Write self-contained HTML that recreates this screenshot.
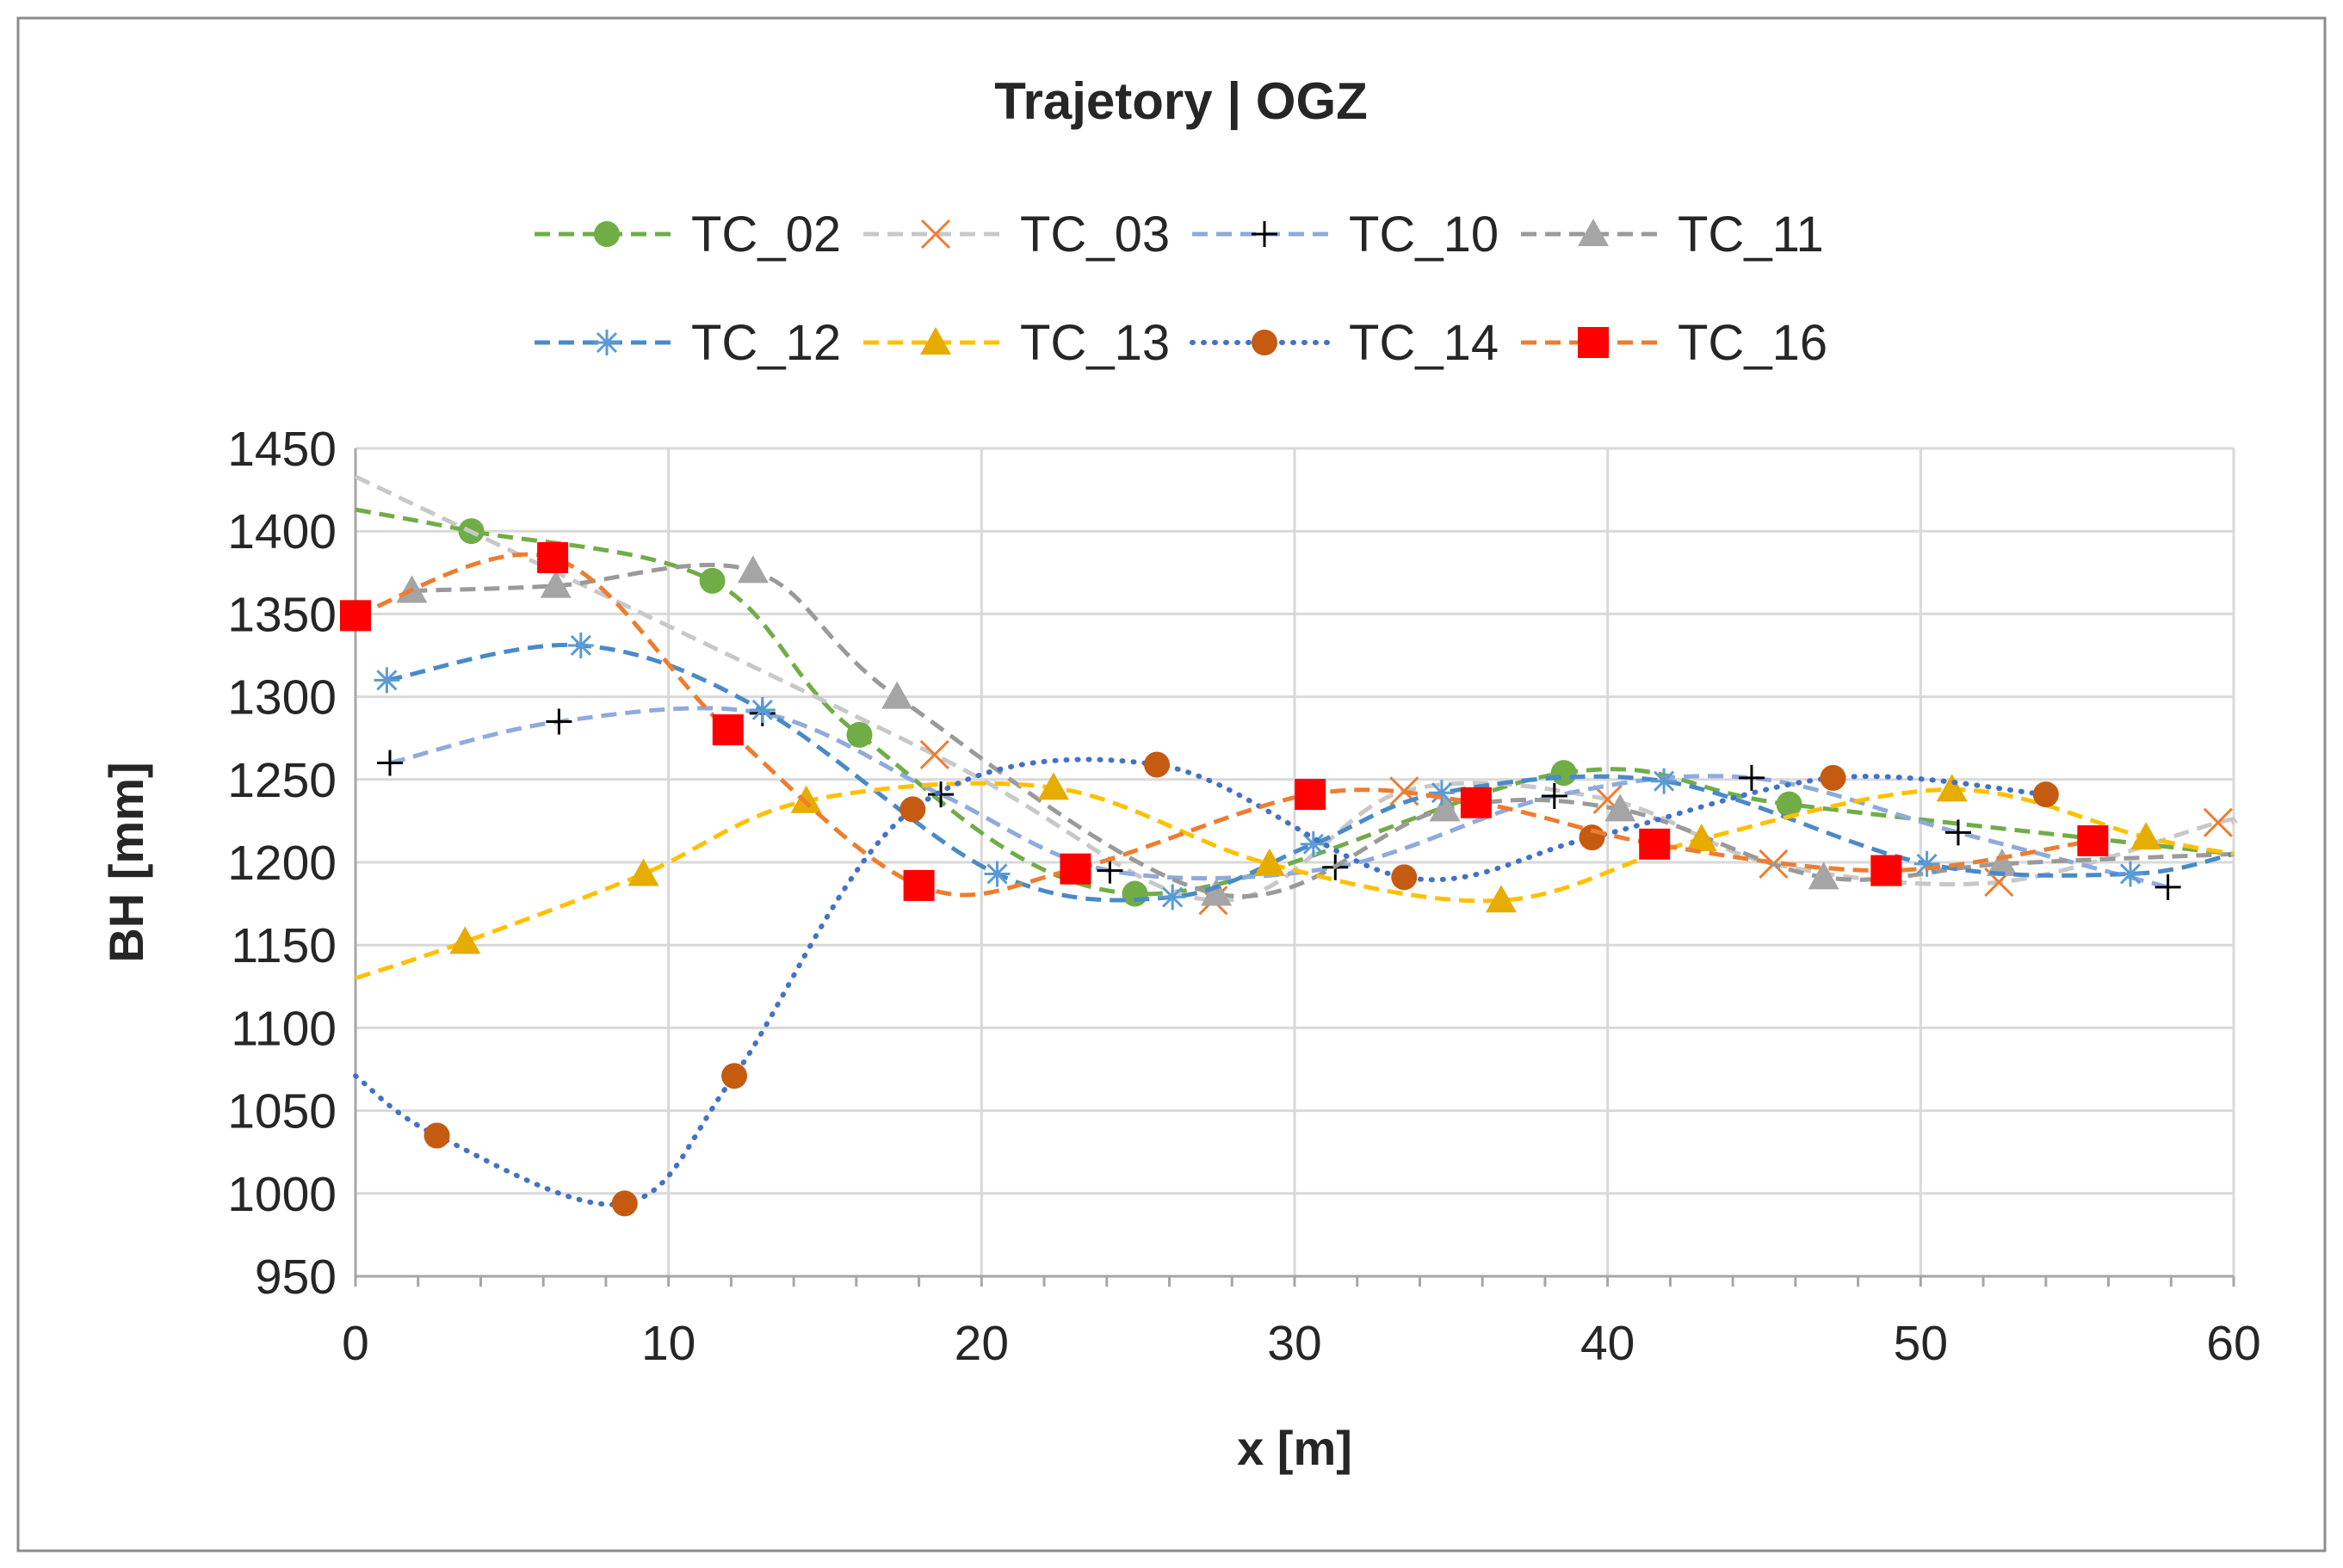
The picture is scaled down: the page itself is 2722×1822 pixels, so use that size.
<!DOCTYPE html>
<html><head><meta charset="utf-8">
<style>
html,body{margin:0;padding:0;background:#fff;}
svg{display:block;font-family:"Liberation Sans",Arial,sans-serif;}
</style></head>
<body>
<svg id="chart" width="2722" height="1822" viewBox="0 0 2722 1822">
<rect x="21" y="21" width="2680" height="1781" fill="#fff" stroke="#8c8c8c" stroke-width="3"/>
<text x="1372" y="138" text-anchor="middle" font-size="60" font-weight="bold" fill="#262626">Trajetory | OGZ</text>
<g id="grid"></g>
<g id="axes"></g>
<g id="series"></g>
<g id="legend"></g>
<text x="1504" y="1702" text-anchor="middle" font-size="56" font-weight="bold" fill="#262626">x [m]</text>
<text transform="translate(166,1002) rotate(-90)" text-anchor="middle" font-size="56" font-weight="bold" fill="#262626">BH [mm]</text>
</svg>
<script>
const xTicks = [0,10,20,30,40,50,60];
const yTicks = [950,1000,1050,1100,1150,1200,1250,1300,1350,1400,1450];
const seriesNames = ["TC_02","TC_03","TC_10","TC_11","TC_12","TC_13","TC_14","TC_16"];
const tc02x = [0,3.7,11.4,16.1,24.9,38.6,45.8,60];
const tc02y = [1413,1400,1370,1277,1181,1254,1235,1205];
const tc03x = [0,18.5,27.4,33.5,40,45.3,52.5,59.5,60];
const tc03y = [1433,1265,1177,1243,1238,1199,1188,1224,1224];
const tc10x = [1.1,6.5,13,18.7,24.1,31.3,38.3,44.6,51.2,57.9];
const tc10y = [1260,1285,1290,1241,1195,1197,1240,1251,1218,1185];
const tc11x = [1.8,6.4,12.7,17.3,27.5,34.8,40.4,46.9,52.6,60];
const tc11y = [1364,1367,1376,1300,1181,1232,1232,1191,1199,1205];
const tc12x = [1,7.2,13,20.5,26.1,30.6,34.7,41.8,50.2,56.7,60];
const tc12y = [1310,1331,1292,1193,1179,1211,1242,1249,1199,1193,1205];
const tc13x = [0,3.5,9.2,14.4,22.3,29.2,36.6,43,51,57.2,60];
const tc13y = [1130,1152,1193,1237,1245,1199,1177,1214,1244,1215,1205];
const tc14x = [0,2.6,8.6,12.1,17.8,25.6,33.5,39.5,47.2,54];
const tc14y = [1071,1035,994,1071,1232,1259,1191,1215,1251,1241];
const tc16x = [0,6.3,11.9,18,23,30.5,35.8,41.5,48.9,55.5];
const tc16y = [1349,1384,1280,1186,1196,1241,1236,1211,1195,1213];
const allX = [tc02x,tc03x,tc10x,tc11x,tc12x,tc13x,tc14x,tc16x];
const allY = [tc02y,tc03y,tc10y,tc11y,tc12y,tc13y,tc14y,tc16y];

const NS="http://www.w3.org/2000/svg";
const L=413,R=2595,T=521,B=1483;
const xs=v=>L+(v-0)/(60-0)*(R-L);
const ys=v=>B-(v-950)/(1450-950)*(B-T);
function mk(tag,attrs,parent){const e=document.createElementNS(NS,tag);for(const k in attrs)e.setAttribute(k,attrs[k]);parent.appendChild(e);return e;}

const styles=[
 {line:"#70AD47",dash:"18,10",mark:"circle",mc:"#70AD47",ends:false},
 {line:"#C8C8C8",dash:"18,10",mark:"x",mc:"#ED7D31",ends:false},
 {line:"#8FAADC",dash:"18,10",mark:"plus",mc:"#000",ends:false},
 {line:"#9A9A9A",dash:"18,10",mark:"tri",mc:"#A5A5A5",ends:false},
 {line:"#4A8AC8",dash:"18,10",mark:"star",mc:"#5B9BD5",ends:false},
 {line:"#FFC000",dash:"18,10",mark:"tri",mc:"#E6AC00",ends:false},
 {line:"#4472C4",dash:"1,12",mark:"circle",mc:"#C55A11",ends:false},
 {line:"#ED7D31",dash:"18,10",mark:"square",mc:"#FF0000",ends:true}
];

const grid=document.getElementById('grid');
yTicks.forEach(v=>{
 const l=mk('line',{x1:L,x2:R,y1:ys(v),y2:ys(v),stroke:'#d9d9d9','stroke-width':3},grid);
 
 
 const t=mk('text',{x:L-22,y:ys(v)+20,'text-anchor':'end','font-size':57,fill:'#262626'},grid);
 t.textContent=v;
 
 
});
xTicks.forEach(v=>{
 const l=mk('line',{x1:xs(v),x2:xs(v),y1:T,y2:B,stroke:'#d9d9d9','stroke-width':3},grid);
 
 
 const t=mk('text',{x:xs(v),y:B+97,'text-anchor':'middle','font-size':57,fill:'#262626'},grid);
 t.textContent=v;
 
 
});
const axes=document.getElementById('axes');
for(let v=0;v<=60;v+=2){
 const tk=mk('line',{x1:xs(v),x2:xs(v),y1:B,y2:B+12,stroke:'#a6a6a6','stroke-width':3},axes);
 
 
}
const xa=mk('line',{x1:L,x2:R,y1:B,y2:B,stroke:'#a6a6a6','stroke-width':3},axes);


const ya=mk('line',{x1:L,x2:L,y1:T,y2:B,stroke:'#a6a6a6','stroke-width':3},axes);



function smooth(px,py){
 let d=`M${px[0]},${py[0]}`;
 for(let i=0;i<px.length-1;i++){
  const x0=px[Math.max(i-1,0)],y0=py[Math.max(i-1,0)];
  const x1=px[i],y1=py[i],x2=px[i+1],y2=py[i+1];
  const x3=px[Math.min(i+2,px.length-1)],y3=py[Math.min(i+2,px.length-1)];
  const c1x=x1+(x2-x0)/6,c1y=y1+(y2-y0)/6,c2x=x2-(x3-x1)/6,c2y=y2-(y3-y1)/6;
  d+=` C${c1x},${c1y} ${c2x},${c2y} ${x2},${y2}`;
 }
 return d;
}
function marker(type,x,y,c,parent,s){
 s=s||1;let e;
 if(type==='circle')e=mk('circle',{cx:x,cy:y,r:15*s,fill:c},parent);
 else if(type==='square')e=mk('rect',{x:x-18*s,y:y-18*s,width:36*s,height:36*s,fill:c},parent);
 else if(type==='tri')e=mk('polygon',{points:`${x},${y-18*s} ${x+18*s},${y+14*s} ${x-18*s},${y+14*s}`,fill:c},parent);
 else if(type==='x')e=mk('path',{d:`M${x-16*s},${y-16*s}L${x+16*s},${y+16*s}M${x+16*s},${y-16*s}L${x-16*s},${y+16*s}`,stroke:c,'stroke-width':3,fill:'none'},parent);
 else if(type==='plus')e=mk('path',{d:`M${x-15*s},${y}L${x+15*s},${y}M${x},${y-15*s}L${x},${y+15*s}`,stroke:c,'stroke-width':3,fill:'none'},parent);
 else if(type==='star')e=mk('path',{d:`M${x-15*s},${y}L${x+15*s},${y}M${x},${y-15*s}L${x},${y+15*s}M${x-11*s},${y-11*s}L${x+11*s},${y+11*s}M${x+11*s},${y-11*s}L${x-11*s},${y+11*s}`,stroke:c,'stroke-width':3,fill:'none'},parent);
 return e;
}
const sg=document.getElementById('series');
allX.forEach((xa_,i)=>{
 const st=styles[i];
 const g=mk('g',{},sg);
 
 
 const px=xa_.map(xs),py=allY[i].map(ys);
 const dotted=st.dash==='1,12';
 const p=mk('path',{d:smooth(px,py),fill:'none',stroke:st.line,'stroke-width':dotted?6:5,'stroke-dasharray':st.dash,'stroke-linecap':dotted?'round':'butt'},g);
 
 
 px.forEach((x,j)=>{
  const isEnd=(j===0&&xa_[j]===0)||(xa_[j]===60);
  if(isEnd&&!st.ends)return;
  const m=marker(st.mark,x,py[j],st.mc,g);
  
  
 });
});
const lg=document.getElementById('legend');
const cols=[621,1003,1385,1767],rows=[272,398];
seriesNames.forEach((n,i)=>{
 const cx=cols[i%4],cy=rows[Math.floor(i/4)],st=styles[i];
 const g=mk('g',{},lg);
 
 
 const dotted=st.dash==='1,12';
 mk('line',{x1:cx,x2:cx+168,y1:cy,y2:cy,stroke:st.line,'stroke-width':dotted?6:5,'stroke-dasharray':st.dash,'stroke-linecap':dotted?'round':'butt'},g);
 marker(st.mark,cx+84,cy,st.mc,g);
 const t=mk('text',{x:cx+182,y:cy+20,'font-size':58,fill:'#262626'},g);
 t.textContent=n;
});
</script>
</body></html>
